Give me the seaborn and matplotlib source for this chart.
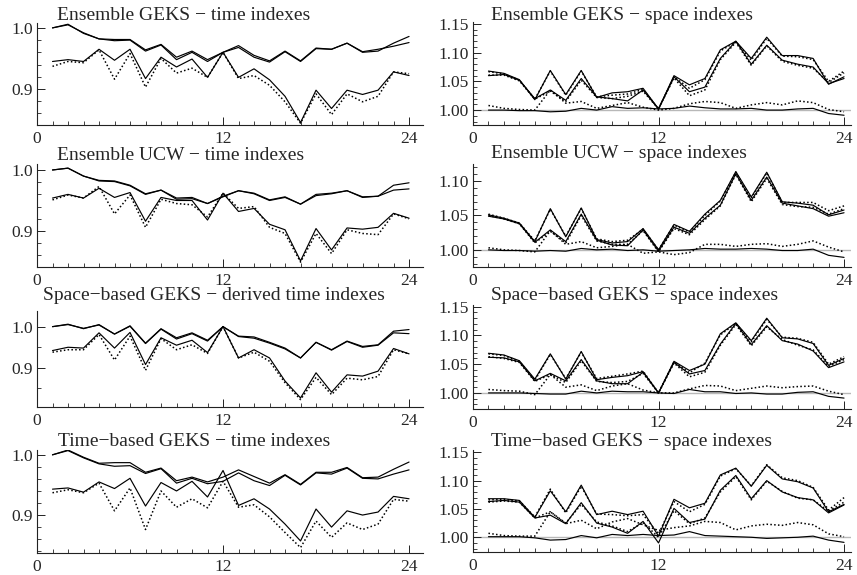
import matplotlib
matplotlib.use("Agg")
import matplotlib.pyplot as plt
from matplotlib.ticker import MultipleLocator, FormatStrFormatter, FixedLocator
import seaborn as sns
import pandas as pd

sns.set_style("ticks")
plt.rcParams['font.family'] = ['Liberation Serif', 'DejaVu Serif']
plt.rcParams['axes.unicode_minus'] = True

months = list(range(1, 25))

# ---- time index panels (left column) ----
l1_a = [1.000,1.006,0.991,0.982,0.981,0.981,0.964,0.973,0.952,0.962,0.948,0.960,0.971,0.955,0.946,0.962,0.946,0.967,0.965,0.975,0.960,0.962,0.975,0.986]
l1_b = [1.000,1.005,0.992,0.982,0.979,0.980,0.962,0.972,0.948,0.960,0.945,0.960,0.968,0.952,0.944,0.961,0.945,0.966,0.965,0.975,0.961,0.965,0.970,0.976]
l1_c = [0.945,0.948,0.945,0.965,0.947,0.965,0.917,0.952,0.936,0.949,0.919,0.960,0.919,0.933,0.915,0.888,0.845,0.898,0.868,0.898,0.891,0.898,0.928,0.922]
l1_d = [0.937,0.945,0.943,0.964,0.916,0.958,0.903,0.950,0.926,0.934,0.919,0.960,0.917,0.922,0.906,0.879,0.844,0.892,0.858,0.892,0.879,0.888,0.928,0.925]

l2_a = [1.000,1.003,0.990,0.983,0.982,0.975,0.961,0.967,0.954,0.955,0.945,0.956,0.966,0.962,0.951,0.956,0.944,0.960,0.962,0.966,0.956,0.957,0.975,0.979]
l2_b = [1.000,1.003,0.990,0.982,0.981,0.974,0.960,0.967,0.952,0.953,0.945,0.957,0.966,0.961,0.950,0.955,0.944,0.958,0.961,0.966,0.955,0.957,0.967,0.969]
l2_c = [0.954,0.960,0.954,0.970,0.955,0.963,0.916,0.955,0.950,0.950,0.918,0.962,0.932,0.937,0.911,0.902,0.851,0.904,0.869,0.905,0.903,0.906,0.929,0.921]
l2_d = [0.951,0.959,0.954,0.973,0.928,0.959,0.906,0.952,0.945,0.943,0.923,0.962,0.937,0.940,0.906,0.896,0.849,0.896,0.863,0.902,0.896,0.894,0.928,0.920]

l3_a = [1.000,1.006,0.995,1.005,0.982,1.002,0.960,0.995,0.973,0.985,0.967,1.000,0.977,0.975,0.962,0.948,0.924,0.962,0.944,0.965,0.952,0.956,0.989,0.993]
l3_b = [1.000,1.005,0.996,1.004,0.982,1.001,0.959,0.994,0.970,0.983,0.965,1.000,0.976,0.972,0.960,0.946,0.924,0.962,0.943,0.964,0.950,0.955,0.985,0.983]
l3_c = [0.942,0.950,0.948,0.985,0.948,0.986,0.908,0.973,0.955,0.967,0.937,1.000,0.924,0.944,0.924,0.868,0.827,0.888,0.841,0.883,0.880,0.892,0.947,0.934]
l3_d = [0.938,0.944,0.944,0.981,0.919,0.977,0.894,0.971,0.944,0.956,0.935,1.000,0.924,0.938,0.916,0.864,0.823,0.877,0.835,0.875,0.871,0.879,0.944,0.934]

l4_a = [1.000,1.008,0.996,0.986,0.987,0.987,0.971,0.978,0.957,0.963,0.955,0.963,0.975,0.964,0.953,0.967,0.951,0.971,0.971,0.979,0.962,0.963,0.976,0.988]
l4_b = [1.000,1.007,0.995,0.985,0.981,0.982,0.969,0.977,0.953,0.961,0.952,0.956,0.970,0.957,0.949,0.966,0.950,0.970,0.968,0.978,0.961,0.960,0.968,0.975]
l4_c = [0.943,0.945,0.938,0.955,0.944,0.961,0.915,0.954,0.940,0.956,0.930,0.974,0.916,0.927,0.910,0.885,0.857,0.910,0.880,0.907,0.900,0.905,0.931,0.927]
l4_d = [0.937,0.942,0.937,0.953,0.907,0.945,0.876,0.940,0.913,0.927,0.912,0.956,0.913,0.917,0.897,0.871,0.846,0.890,0.863,0.887,0.876,0.885,0.926,0.923]

# ---- space index panels (right column) ----
r1_hs = [1.068,1.064,1.053,1.018,1.069,1.027,1.069,1.022,1.030,1.032,1.038,1.002,1.060,1.044,1.055,1.105,1.120,1.090,1.127,1.095,1.095,1.090,1.045,1.058]
r1_hd = [1.067,1.063,1.052,1.019,1.068,1.026,1.068,1.023,1.026,1.028,1.036,1.002,1.058,1.038,1.053,1.103,1.119,1.087,1.125,1.094,1.093,1.088,1.050,1.068]
r1_ms = [1.060,1.062,1.052,1.020,1.035,1.017,1.055,1.023,1.020,1.016,1.035,1.002,1.058,1.032,1.040,1.090,1.120,1.080,1.113,1.087,1.080,1.075,1.046,1.055]
r1_md = [1.061,1.061,1.051,1.019,1.033,1.015,1.052,1.022,1.020,1.024,1.033,1.002,1.056,1.025,1.035,1.088,1.118,1.078,1.112,1.085,1.078,1.073,1.048,1.065]
r1_ls = [1.000,1.000,0.999,0.999,0.997,0.998,1.003,1.000,1.006,1.003,1.004,1.002,1.003,1.007,1.004,1.002,1.002,1.003,1.000,1.000,1.002,1.003,0.994,0.991]
r1_ld = [1.008,1.003,1.001,1.000,1.035,1.012,1.015,1.003,1.008,1.013,1.005,1.000,1.003,1.011,1.015,1.013,1.003,1.009,1.013,1.009,1.016,1.013,1.001,0.997]

r2_hs = [1.051,1.046,1.039,1.012,1.060,1.019,1.061,1.015,1.010,1.012,1.031,1.000,1.037,1.027,1.052,1.072,1.114,1.077,1.113,1.070,1.068,1.065,1.051,1.058]
r2_hd = [1.052,1.046,1.039,1.013,1.059,1.020,1.060,1.016,1.012,1.014,1.030,1.000,1.036,1.026,1.050,1.071,1.113,1.075,1.112,1.069,1.069,1.069,1.057,1.064]
r2_ms = [1.049,1.045,1.038,1.011,1.029,1.012,1.052,1.014,1.007,1.006,1.029,0.998,1.033,1.024,1.046,1.065,1.111,1.072,1.106,1.068,1.064,1.060,1.049,1.054]
r2_md = [1.050,1.045,1.038,1.010,1.027,1.010,1.050,1.013,1.008,1.008,1.028,0.997,1.031,1.022,1.044,1.064,1.110,1.070,1.104,1.066,1.063,1.062,1.052,1.060]
r2_ls = [1.000,0.999,0.999,0.998,0.999,0.998,1.002,1.000,1.001,0.999,1.000,0.998,0.999,1.000,1.002,1.001,1.001,1.002,1.001,0.999,0.999,1.001,0.992,0.989]
r2_ld = [1.003,1.000,0.999,0.997,1.028,1.008,1.012,1.003,1.005,1.008,0.995,0.997,0.993,0.996,1.008,1.008,1.005,1.008,1.009,1.005,1.008,1.013,1.004,0.997]

r3_hs = [1.069,1.066,1.056,1.024,1.068,1.024,1.072,1.023,1.027,1.030,1.037,1.000,1.055,1.039,1.050,1.103,1.122,1.091,1.130,1.096,1.094,1.086,1.048,1.060]
r3_hd = [1.068,1.065,1.055,1.022,1.067,1.025,1.071,1.025,1.029,1.033,1.038,1.000,1.054,1.035,1.052,1.101,1.121,1.089,1.128,1.097,1.095,1.088,1.050,1.063]
r3_ms = [1.062,1.061,1.054,1.021,1.034,1.021,1.058,1.021,1.016,1.016,1.036,1.000,1.053,1.033,1.039,1.085,1.121,1.084,1.117,1.091,1.085,1.073,1.044,1.054]
r3_md = [1.063,1.060,1.053,1.020,1.032,1.018,1.056,1.020,1.018,1.020,1.034,1.000,1.052,1.028,1.036,1.083,1.119,1.082,1.115,1.093,1.083,1.075,1.046,1.058]
r3_ls = [1.000,1.000,1.000,0.999,0.998,0.998,1.003,1.000,1.003,1.002,1.002,1.000,0.999,1.006,1.002,1.002,0.999,1.000,0.998,0.998,1.001,1.002,0.994,0.991]
r3_ld = [1.006,1.004,1.003,0.997,1.032,1.010,1.014,1.004,1.012,1.016,1.005,1.000,1.000,1.007,1.013,1.012,1.004,1.008,1.012,1.009,1.011,1.012,1.003,0.997]

r4_hs = [1.068,1.068,1.065,1.035,1.082,1.045,1.092,1.040,1.046,1.040,1.046,1.002,1.067,1.052,1.060,1.110,1.122,1.090,1.127,1.103,1.098,1.087,1.045,1.058]
r4_hd = [1.066,1.067,1.064,1.036,1.085,1.043,1.090,1.041,1.040,1.038,1.040,1.006,1.063,1.045,1.058,1.108,1.121,1.091,1.128,1.105,1.100,1.088,1.048,1.070]
r4_ms = [1.063,1.065,1.062,1.034,1.039,1.024,1.061,1.025,1.018,1.007,1.028,0.990,1.051,1.026,1.032,1.083,1.109,1.068,1.100,1.080,1.070,1.066,1.043,1.057]
r4_md = [1.062,1.064,1.062,1.034,1.045,1.025,1.058,1.027,1.020,1.010,1.026,1.000,1.047,1.024,1.034,1.080,1.107,1.066,1.099,1.081,1.069,1.066,1.046,1.062]
r4_ls = [1.001,1.001,1.001,0.999,0.995,0.996,1.003,0.999,1.005,1.003,1.005,1.003,1.004,1.010,1.003,1.002,1.001,1.000,0.998,0.999,1.000,1.002,0.995,0.991]
r4_ld = [1.007,1.003,1.002,1.002,1.045,1.024,1.030,1.015,1.027,1.033,1.022,1.012,1.017,1.020,1.028,1.026,1.013,1.020,1.023,1.021,1.026,1.022,1.006,1.001]

left_titles = ["Ensemble GEKS \u2212 time indexes",
               "Ensemble UCW \u2212 time indexes",
               "Space\u2212based GEKS \u2212 derived time indexes",
               "Time\u2212based GEKS \u2212 time indexes"]
right_titles = ["Ensemble GEKS \u2212 space indexes",
                "Ensemble UCW \u2212 space indexes",
                "Space\u2212based GEKS \u2212 space indexes",
                "Time\u2212based GEKS \u2212 space indexes"]

left_series = [(l1_a, l1_b, l1_c, l1_d), (l2_a, l2_b, l2_c, l2_d),
               (l3_a, l3_b, l3_c, l3_d), (l4_a, l4_b, l4_c, l4_d)]
right_series = [(r1_hs, r1_hd, r1_ms, r1_md, r1_ls, r1_ld),
                (r2_hs, r2_hd, r2_ms, r2_md, r2_ls, r2_ld),
                (r3_hs, r3_hd, r3_ms, r3_md, r3_ls, r3_ld),
                (r4_hs, r4_hd, r4_ms, r4_md, r4_ls, r4_ld)]

W, H = 857, 575
fig = plt.figure(figsize=(W / 100, H / 100), dpi=100)

def px_axes(x0, x1, top, bottom):
    return fig.add_axes([x0 / W, 1 - bottom / H, (x1 - x0) / W, (bottom - top) / H])

left_rows = [(23, 125), (164, 267), (311, 407), (450, 553)]
right_rows = [(22, 125), (164, 267), (305, 409), (450, 552)]
left_ylims = [(0.841, 1.008), (0.841, 1.0098), (0.805, 1.038), (0.837, 1.008)]
right_ylims = [(0.974, 1.1535), (0.975, 1.125), (0.972, 1.153), (0.974, 1.154)]
left_minor = [0.02, 0.02, 0.05, 0.02]
left_title_x = [57, 57, 43, 58]
left_title_base = [20, 160, 300, 446]
right_title_base = [20, 158, 300, 446]

SOLID = dict(color="black", linewidth=0.85, linestyle="-")
DOT = dict(color="black", linewidth=1.1, linestyle=(0, (1.0, 1.5)))
TICKFS = 12.5
TITLEFS = 14


def style_axes(ax, xmax):
    sns.despine(ax=ax)
    for s in ("left", "bottom"):
        ax.spines[s].set_linewidth(0.8)
        ax.spines[s].set_color("#222222")
    ax.set_xlim(0, xmax)
    ax.xaxis.set_major_locator(FixedLocator([0, 12, 24]))
    ax.xaxis.set_minor_locator(MultipleLocator(1))
    ax.tick_params(axis="both", which="major", direction="in", length=5.5, width=0.7,
                   labelsize=TICKFS, pad=3, color="#222222")
    ax.tick_params(axis="both", which="minor", direction="in", length=3, width=0.6,
                   color="#222222")
    ax.tick_params(axis="x", which="major", pad=4)
    ax.set_xlabel("")
    ax.set_ylabel("")
    ax.set_facecolor("none")
    ax.grid(False)


for i in range(4):
    top, bottom = left_rows[i]
    ax = px_axes(37, 423, top, bottom)
    a, b, c, d = left_series[i]
    df = pd.DataFrame({"month": months, "a": a, "b": b, "c": c, "d": d})
    sns.lineplot(data=df, x="month", y="a", ax=ax, **SOLID)
    sns.lineplot(data=df, x="month", y="b", ax=ax, **SOLID)
    sns.lineplot(data=df, x="month", y="c", ax=ax, **SOLID)
    sns.lineplot(data=df, x="month", y="d", ax=ax, **DOT)
    style_axes(ax, 24.9)
    ax.set_ylim(*left_ylims[i])
    ax.yaxis.set_major_locator(FixedLocator([0.9, 1.0]))
    ax.yaxis.set_minor_locator(MultipleLocator(left_minor[i]))
    ax.yaxis.set_major_formatter(FormatStrFormatter("%.1f"))
    fig.text(left_title_x[i] / W, 1 - left_title_base[i] / H, left_titles[i],
             fontsize=TITLEFS, ha="left", va="baseline")

for i in range(4):
    top, bottom = right_rows[i]
    ax = px_axes(473, 851, top, bottom)
    hs, hd, ms, md, ls_, ld = right_series[i]
    df = pd.DataFrame({"month": months, "hs": hs, "hd": hd, "ms": ms,
                       "md": md, "ls": ls_, "ld": ld})
    ax.axhline(1.0, color="#b8b8b8", linewidth=1.0, zorder=0)
    sns.lineplot(data=df, x="month", y="hs", ax=ax, **SOLID)
    sns.lineplot(data=df, x="month", y="hd", ax=ax, **DOT)
    sns.lineplot(data=df, x="month", y="ms", ax=ax, **SOLID)
    sns.lineplot(data=df, x="month", y="md", ax=ax, **DOT)
    sns.lineplot(data=df, x="month", y="ls", ax=ax, **SOLID)
    sns.lineplot(data=df, x="month", y="ld", ax=ax, **DOT)
    style_axes(ax, 24.45)
    ax.set_ylim(*right_ylims[i])
    ax.yaxis.set_major_locator(MultipleLocator(0.05))
    ax.yaxis.set_minor_locator(MultipleLocator(0.01))
    ax.yaxis.set_major_formatter(FormatStrFormatter("%.2f"))
    fig.text(491 / W, 1 - right_title_base[i] / H, right_titles[i],
             fontsize=TITLEFS, ha="left", va="baseline")

fig.savefig("out.png", dpi=100)
